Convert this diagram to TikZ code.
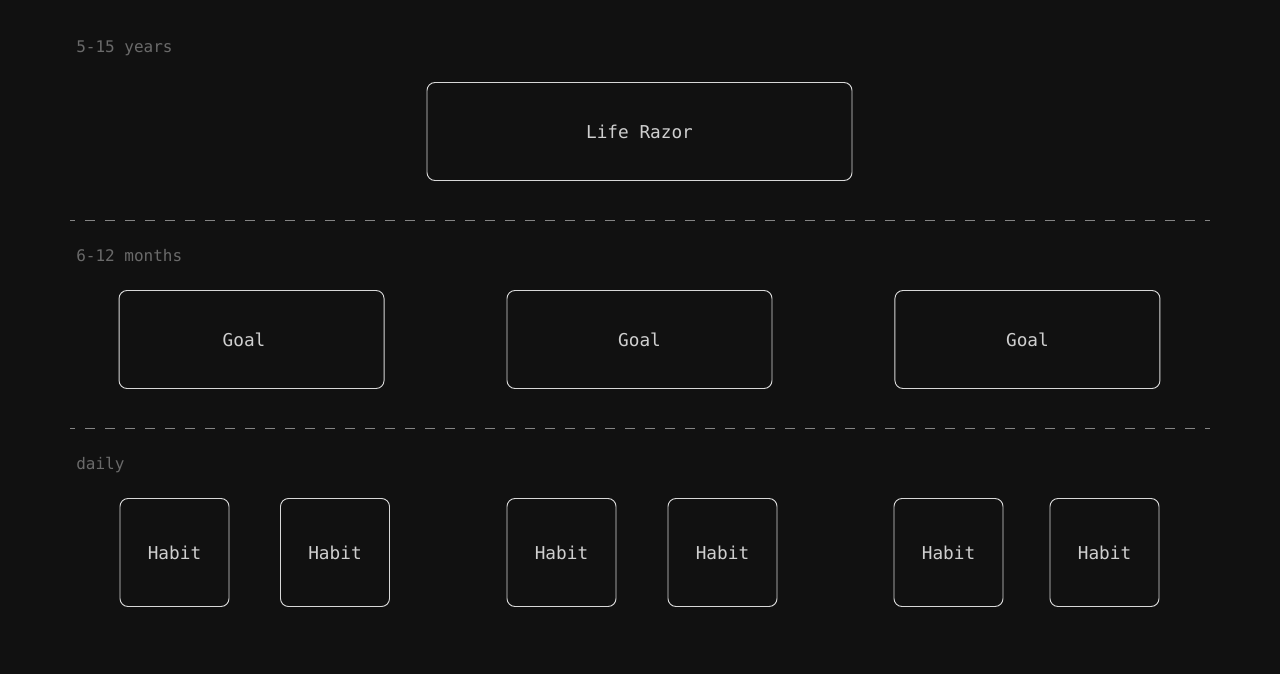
\documentclass[tikz,border=0pt]{standalone}
\usepackage{fontspec}
\setmonofont{DejaVu Sans Mono}
\usetikzlibrary{positioning}

\definecolor{bg}{HTML}{111111}
\definecolor{edge}{HTML}{D8D8D8}
\definecolor{ink}{HTML}{CFCFCF}
\definecolor{dim}{HTML}{6A6A6A}
\definecolor{sep}{HTML}{858585}

\tikzset{
    box/.style={draw=edge, line width=0.7pt, rounded corners=6pt, fill=bg,
        text=ink, font=\ttfamily\fontsize{13.3}{15}\selectfont, inner sep=0pt},
    razor/.style={box, minimum width=318.75pt, minimum height=73.5pt},
    goal/.style={box, minimum width=198.75pt, minimum height=73.5pt},
    habit/.style={box, minimum width=81.75pt, minimum height=81pt},
    horizon/.style={anchor=base west, text=dim, inner sep=0pt,
        font=\ttfamily\fontsize{12}{14}\selectfont},
    divider/.style={draw=sep, line width=0.75pt,
        dash pattern=on 7.5pt off 7.5pt, dash phase=3.75pt}
}

\begin{document}
\begin{tikzpicture}[x=0.75pt, y=-0.75pt]
    \fill[bg] (0,0) rectangle (1280,674);
    \useasboundingbox (0,0) rectangle (1280,674);

    % horizons
    \node[horizon] (years) at (76,53) {5-15 years};
    \node[horizon] (months) at (76,261) {6-12 months};
    \node[horizon] (daily) at (76,469) {daily};

    \coordinate (d1l) at (70,220);
    \coordinate (d1r) at (1210,220);
    \coordinate (d2l) at (70,428);
    \coordinate (d2r) at (1210,428);
    \draw[divider] (d1l) -- (d1r);
    \draw[divider] (d2l) -- (d2r);

    \node[razor] (lr) at (639.5,131.5) {Life Razor};

    \node[goal] (g2) at (639.5,339.5) {Goal};
    \node[goal, left=91.5pt of g2] (g1) {Goal\hspace*{11.25pt}};
    \node[goal, right=91.5pt of g2] (g3) {Goal};

    \node[habit] (h1) at (174.5,552.5) {Habit};
    \node[habit] (h2) at (335,552.5) {Habit};
    \node[habit] (h3) at (561.5,552.5) {Habit};
    \node[habit] (h4) at (722.5,552.5) {Habit};
    \node[habit] (h5) at (948.5,552.5) {Habit};
    \node[habit] (h6) at (1104.5,552.5) {Habit};
\end{tikzpicture}
\end{document}
